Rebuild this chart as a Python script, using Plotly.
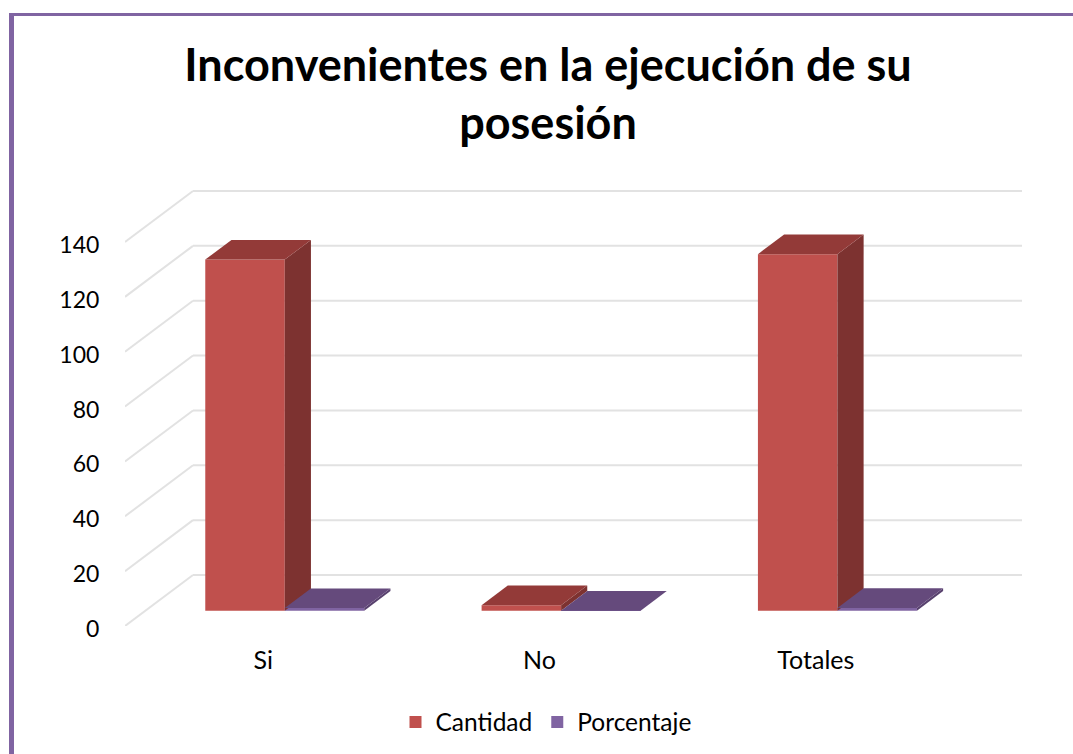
import plotly.graph_objects as go

CATEGORIES = ["Si", "No", "Totales"]
CATEGORY_POS = [0, 1, 2]
CANTIDAD = [128, 2, 130]
PORCENTAJE = [0.98, 0.02, 1]
Y_TICKS = [0, 20, 40, 60, 80, 100, 120, 140]

W, H = 1073, 754
L, R, T, B = 125, 1022, 190, 626
CAT_PX = (954 - 125) / 3
UNIT_PX = (626 - 242) / 140
DX = 68 / CAT_PX          # wall depth in axis units
DY = 51 / UNIT_PX
D0, D1 = 0.30, 0.685      # bar start/end along the depth
BAR_W = 79.5 / CAT_PX
BAR_NUDGE = 1.2 / CAT_PX
GAP = 1 - 2 * BAR_W
FONT = "Lato, Carlito, Calibri, sans-serif"
GRID = "#E2E2E2"

fig = go.Figure()


def add_bar(name, values, color, slot):
    xs = [p + D0 * DX + (slot - 0.5) * BAR_W + BAR_NUDGE for p in CATEGORY_POS]
    fig.add_bar(x=xs, y=values, base=[D0 * DY] * 3, width=BAR_W, name=name,
                marker=dict(color=color, line=dict(width=0)))
    return xs


def add_faces(values, xs, top, side):
    for x, v in zip(xs, values):
        xl, xr = x - BAR_W / 2, x + BAR_W / 2
        y0, yt = D0 * DY, D0 * DY + v
        d = (D1 - D0)
        fig.add_scatter(x=[xr, xr + d * DX, xr + d * DX, xr, xr],
                        y=[y0, y0 + d * DY, yt + d * DY, yt, y0],
                        mode="lines", fill="toself", fillcolor=side,
                        line=dict(width=0), showlegend=False, hoverinfo="skip")
        fig.add_scatter(x=[xl, xr, xr + d * DX, xl + d * DX, xl],
                        y=[yt, yt, yt + d * DY, yt + d * DY, yt],
                        mode="lines", fill="toself", fillcolor=top,
                        line=dict(width=0), showlegend=False, hoverinfo="skip")


xs_c = add_bar("Cantidad", CANTIDAD, "#C0504D", 0)
xs_p = add_bar("Porcentaje", PORCENTAJE, "#8064A2", 1)
add_faces(CANTIDAD, xs_c, "#933A38", "#7D3230")
add_faces(PORCENTAJE, xs_p, "#654A7C", "#58416E")

x_min, x_max = -0.5, 2.5 + DX
y_max = (B - T) / UNIT_PX

shapes = []
for t in Y_TICKS:
    shapes.append(dict(type="line", xref="x", yref="y", layer="below",
                       x0=x_min, y0=t, x1=x_min + DX, y1=t + DY,
                       line=dict(color=GRID, width=2)))
    shapes.append(dict(type="line", xref="x", yref="y", layer="below",
                       x0=x_min + DX, y0=t + DY, x1=x_max, y1=t + DY,
                       line=dict(color=GRID, width=2)))


def px(x):
    return (x - L) / (R - L)


def py(y):
    return (B - y) / (B - T)


BORDER = "#8064A2"
shapes.append(dict(type="rect", xref="paper", yref="paper", line=dict(width=0),
                   fillcolor=BORDER, x0=px(9), x1=px(W), y0=py(16), y1=py(13)))
shapes.append(dict(type="rect", xref="paper", yref="paper", line=dict(width=0),
                   fillcolor=BORDER, x0=px(9), x1=px(14), y0=py(H), y1=py(13)))

fig.update_layout(
    width=W, height=H,
    margin=dict(l=L, r=W - R, t=T, b=H - B, pad=0, autoexpand=False),
    paper_bgcolor="white", plot_bgcolor="white",
    barmode="overlay", bargap=GAP,
    shapes=shapes,
    font=dict(family=FONT, color="black", size=23),
    title=dict(text="<b>Inconvenientes en la ejecución de su<br>posesión</b>",
               x=548 / W, xanchor="center", y=0.893, yanchor="middle",
               font=dict(family=FONT, size=45, color="black")),
    xaxis=dict(range=[x_min, x_max], tickmode="array", tickvals=CATEGORY_POS,
               ticktext=CATEGORIES, showgrid=False, zeroline=False, showline=False,
               ticks="outside", ticklen=12, tickcolor="rgba(0,0,0,0)",
               tickfont=dict(size=25)),
    yaxis=dict(range=[0, y_max], tickmode="array", tickvals=Y_TICKS, showgrid=False,
               zeroline=False, showline=False, ticks="outside", ticklen=20,
               tickcolor="rgba(0,0,0,0)", tickfont=dict(size=23), ticklabelshift=3),
    legend=dict(orientation="h", x=px(546), xanchor="center", y=py(722), yanchor="middle",
                font=dict(size=24.5), bgcolor="rgba(0,0,0,0)"),
    showlegend=True,
)

fig.write_html("out.html", config={"displayModeBar": False},
               post_script="document.body.style.margin='0';")
